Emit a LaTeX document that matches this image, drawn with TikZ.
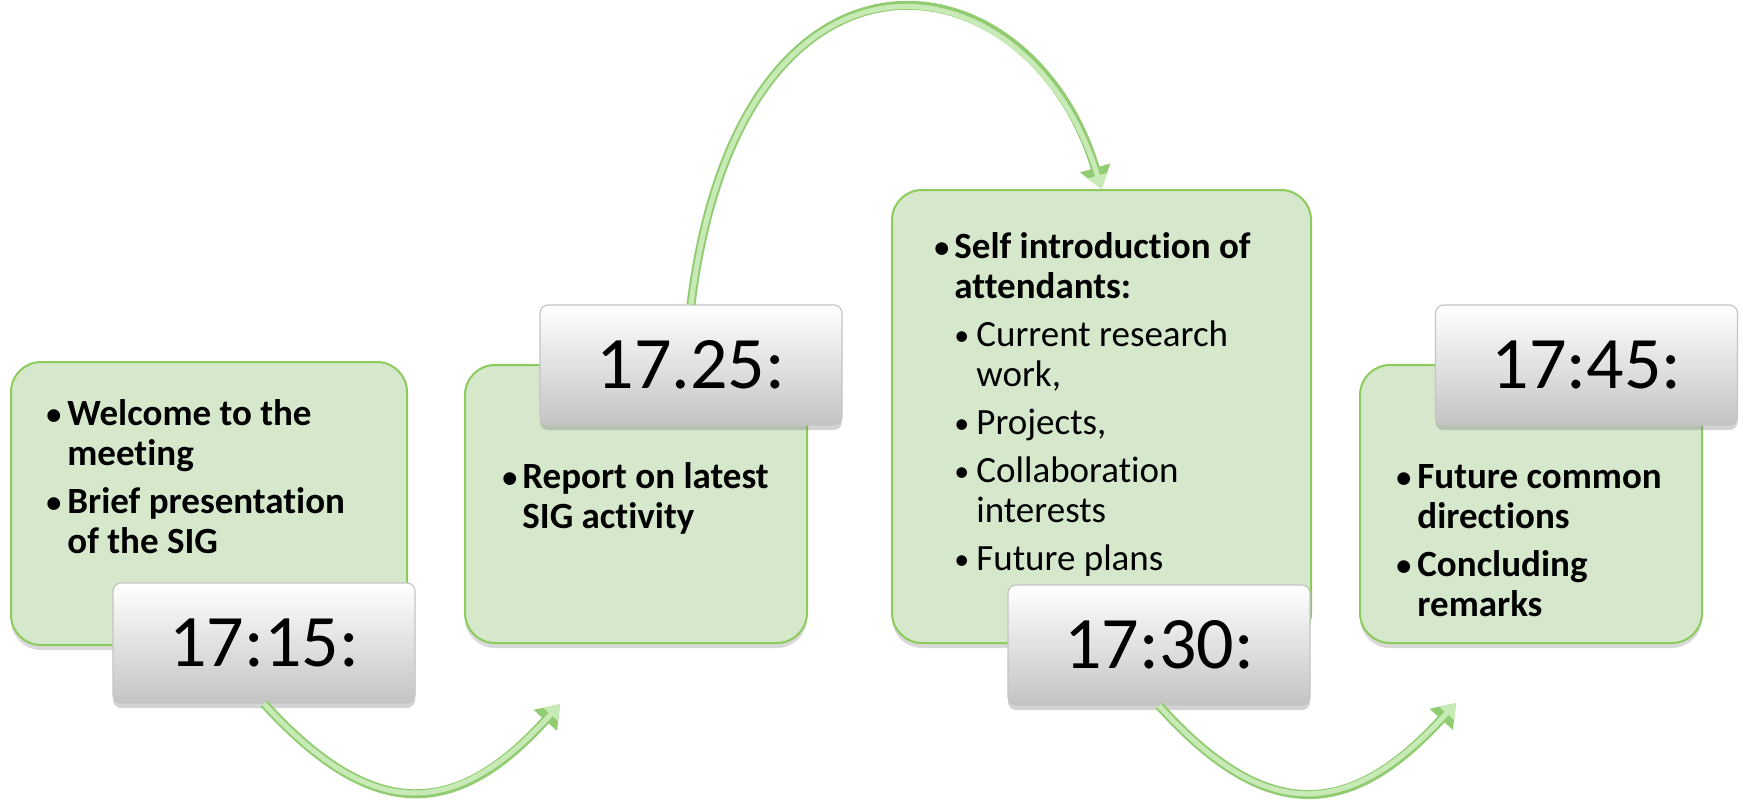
\documentclass[tikz,border=0pt]{standalone}
\usepackage{fontspec}
\setmainfont{Carlito}[Ligatures={NoCommon}]
\usepackage{tikz}
\usetikzlibrary{arrows.meta, shadows, positioning}
\definecolor{boxfill}{RGB}{213,232,204}
\definecolor{boxedge}{RGB}{141,203,92}
\definecolor{flowfill}{RGB}{200,234,182}
\definecolor{flowedge}{RGB}{146,204,114}
\definecolor{tagedge}{RGB}{196,196,196}
\definecolor{tagbot}{RGB}{196,196,196}
\newcommand{\bul}{\raisebox{0.4pt}{\fontsize{15}{20}\selectfont\textbullet}}
\newcommand{\subfnt}{\mdseries}

\begin{document}
\begin{tikzpicture}[x=0.5pt, y=-0.5pt,
  stagebox/.style={draw=boxedge, line width=1pt, fill=boxfill, rounded corners=15pt,
    inner sep=0pt, drop shadow={shadow xshift=0pt, shadow yshift=-2.5pt, opacity=0.3}},
  timetag/.style={draw=tagedge, line width=0.6pt, rounded corners=4pt,
    top color=white, bottom color=tagbot, minimum width=151pt, minimum height=60pt,
    font=\fontsize{37}{40}\selectfont,
    drop shadow={shadow xshift=0pt, shadow yshift=-2.5pt, opacity=0.35}},
  items/.style={anchor=north west, inner sep=0pt, font=\bfseries\fontsize{18.5}{20}\selectfont},
  flow/.style={draw=flowfill, line width=2.5pt, -{Triangle[width=10pt,length=7pt]},
    preaction={draw=flowedge, line width=4.5pt, -{Triangle[width=15pt,length=11pt]}}}]
  \useasboundingbox (0,0) rectangle (1743,800);

  \node[stagebox, minimum width=198pt, minimum height=141.5pt] (box1) at (209,503.5) {};
  \node[stagebox, minimum width=171pt, minimum height=139pt] (box2) at (636,504) {};
  \node[stagebox, minimum width=209.5pt, minimum height=226.5pt] (box3) at (1101.5,416.5) {};
  \node[stagebox, minimum width=171pt, minimum height=139pt] (box4) at (1531,504) {};

  \node[items] (txt1) at (46,397) {\begin{tabular}{@{}p{10.5pt}@{}l@{}}
    \bul & Welcome to the\\ & meeting\\[4pt]
    \bul & Brief presentation\\ & of the SIG
  \end{tabular}};
  \node[items] (txt2) at (502,460) {\begin{tabular}{@{}p{10pt}@{}l@{}}
    \bul & Report on latest\\ & SIG activity
  \end{tabular}};
  \node[items] (txt3) at (934,230) {\begin{tabular}{@{}p{10pt}@{}p{11pt}@{}l@{}}
    \bul & \multicolumn{2}{@{}l@{}}{Self introduction of}\\
    & \multicolumn{2}{@{}l@{}}{attendants:}\\[4pt]
    & \subfnt\bul & \subfnt Current research\\
    & & \subfnt work,\\[4pt]
    & \subfnt\bul & \subfnt Projects,\\[4pt]
    & \subfnt\bul & \subfnt Collaboration\\
    & & \subfnt interests\\[4pt]
    & \subfnt\bul & \subfnt Future plans
  \end{tabular}};
  \node[items] (txt4) at (1396,460) {\begin{tabular}{@{}p{10.5pt}@{}l@{}}
    \bul & Future common\\ & directions\\[4pt]
    \bul & Concluding\\ & remarks
  \end{tabular}};

  \node[timetag] (lbl1) at (264,643) {17:15:};
  \node[timetag] (lbl2) at (691,365) {17.25:};
  \node[timetag] (lbl3) at (1159,645) {17:30:};
  \node[timetag] (lbl4) at (1586.5,365) {17:45:};

  \coordinate (end1) at (560,704);
  \coordinate (end3) at (1456,703);
  \draw[flow] (lbl1.south) .. controls (370,820) and (454,822) .. (end1);
  \draw[flow] (lbl2.north) .. controls (740,-90) and (1030,-50) .. (box3.north);
  \draw[flow] (lbl3.south) .. controls (1264,822) and (1348,822) .. (end3);
\end{tikzpicture}
\end{document}
